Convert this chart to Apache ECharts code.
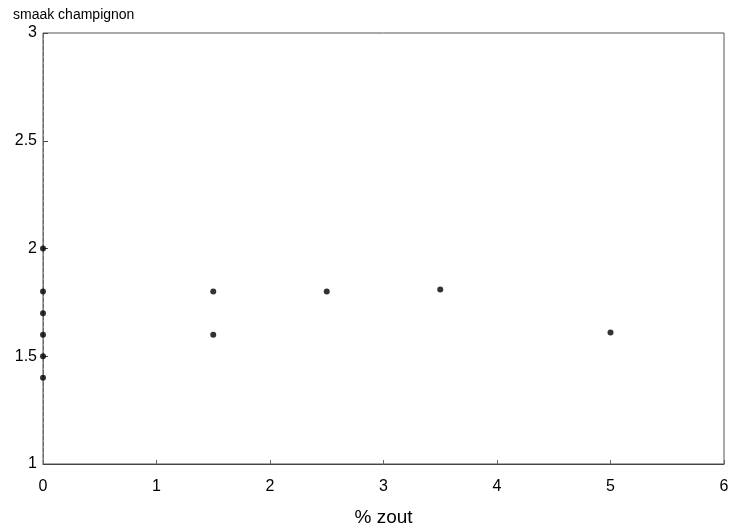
<!DOCTYPE html>
<html><head><meta charset="utf-8">
<script src="https://cdn.jsdelivr.net/npm/echarts@6/dist/echarts.min.js"></script>
<style>html,body{margin:0;padding:0;background:#fff}#c{width:732px;height:530px}</style>
</head><body><div id="c"></div>
<script>
const xValues = [0, 0, 0, 0, 0, 0, 1.5, 1.5, 2.5, 3.5, 5];
const yValues = [2.0, 1.8, 1.7, 1.6, 1.5, 1.4, 1.8, 1.6, 1.8, 1.81, 1.61];
const xTicks = [0, 1, 2, 3, 4, 5, 6];
const yTicks = [1, 1.5, 2, 2.5, 3];
const xTitle = '% zout';
const yTitle = 'smaak champignon';

const pts = xValues.map((x, i) => [x, yValues[i]]);
const font = 'Liberation Sans, Arial, sans-serif';
const chart = echarts.init(document.getElementById('c'), null, {renderer: 'canvas'});
chart.setOption({
  animation: false,
  backgroundColor: '#fff',
  grid: {left: 43, right: 8, top: 33, bottom: 66, show: true, borderColor: '#555', borderWidth: 1,
    containLabel: false, outerBoundsMode: 'none'},
  xAxis: {
    type: 'value', min: 0, max: 6, interval: 1,
    name: xTitle, nameLocation: 'middle', nameGap: 44,
    nameTextStyle: {color: '#000', fontSize: 19, fontFamily: font},
    axisLine: {show: true, lineStyle: {color: '#444', width: 1}},
    axisTick: {show: true, inside: true, length: 4, lineStyle: {color: '#666'}},
    axisLabel: {color: '#000', fontSize: 16, fontFamily: font, margin: 15,
      formatter: v => xTicks.includes(v) ? String(v) : ''},
    splitLine: {show: false}
  },
  yAxis: {
    type: 'value', min: 1, max: 3, interval: 0.5,
    name: yTitle, nameLocation: 'end', nameGap: 11,
    nameTextStyle: {color: '#000', fontSize: 14, fontFamily: font, align: 'left', padding: [0, 0, 0, -30]},
    axisLine: {show: true, lineStyle: {color: '#666', width: 1, type: 'dashed'}},
    axisTick: {show: true, inside: true, length: 5, lineStyle: {color: '#444'}},
    axisLabel: {color: '#000', fontSize: 16, fontFamily: font, margin: 6,
      formatter: v => yTicks.includes(v) ? String(v) : ''},
    splitLine: {show: false}
  },
  series: [{
    type: 'scatter',
    data: pts,
    symbol: 'circle',
    symbolSize: 6,
    itemStyle: {color: '#000'}
  }]
});
</script></body></html>
